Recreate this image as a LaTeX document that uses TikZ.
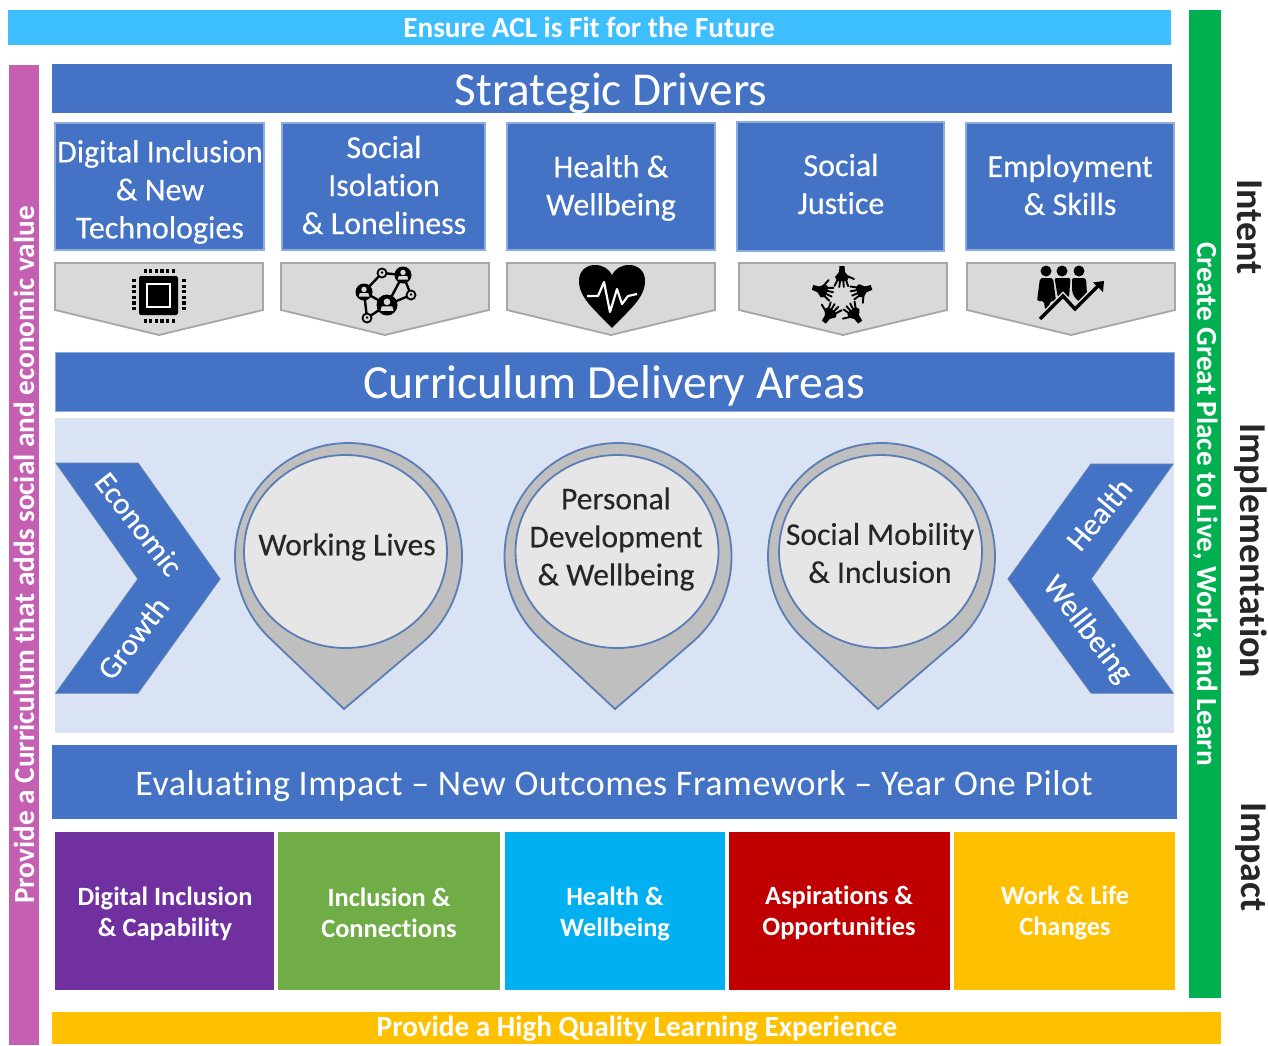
\documentclass[tikz,border=0pt]{standalone}
\usepackage{fontspec}
\setmainfont[Ligatures={NoCommon,TeX}]{Carlito}
\usetikzlibrary{calc}
\definecolor{acblue}{HTML}{4472C4}
\definecolor{acborder}{HTML}{8FAADC}
\definecolor{acpanel}{HTML}{DAE3F3}
\definecolor{accyan}{HTML}{3DBEFF}
\definecolor{acpink}{HTML}{C55FB2}
\definecolor{acgreen}{HTML}{00B050}
\definecolor{acyellow}{HTML}{FFC000}
\definecolor{acpurple}{HTML}{7030A0}
\definecolor{acleaf}{HTML}{70AD47}
\definecolor{acsky}{HTML}{00B0F0}
\definecolor{acred}{HTML}{C00000}
\definecolor{acgrey}{HTML}{D9D9D9}
\definecolor{acedge}{HTML}{A6A6A6}
\definecolor{acpinout}{HTML}{BFBFBF}
\definecolor{acpinin}{HTML}{E7E6E6}
\definecolor{acpinline}{HTML}{5A7DB5}
\newcommand{\pxs}[2]{\fontsize{#1}{#2}\selectfont}
\newcommand{\semi}{\addfontfeature{FakeBold=0.25}}
\tikzset{
  x=0.5pt,y=-0.5pt,
  drvbox/.style={fill=acblue,draw=acborder,line width=0.7pt},
  drvtext/.style={text=white,align=center,font=\pxs{16}{19}\semi},
  chev/.style={fill=acgrey,draw=acedge,line width=0.9pt},
  ltext/.style={text=white,font=\pxs{14.6}{18}\bfseries},
  sidetext/.style={text=white,font=\pxs{14.6}{18}\bfseries},
  outtext/.style={text=white,align=center,font=\pxs{13.2}{15.5}\bfseries},
  righttext/.style={text=black!85,font=\pxs{19}{22}\bfseries,rotate=-90},
  pinout/.style={fill=acpinout,draw=acpinline,line width=0.9pt},
  pinin/.style={fill=acpinin,draw=acpinline,line width=0.9pt},
  pintext/.style={text=black!85,align=center,font=\pxs{15.8}{19}\semi},
  arrowshape/.style={fill=acblue,draw=acpinline,line width=0.5pt},
  arrowtext/.style={text=white,font=\pxs{15.5}{18}\semi},
}
\newcommand{\chevdown}[2]{\draw[chev] (#1,263) -- (#2,263) -- (#2,310) -- ({(#1+#2)/2},335) -- (#1,310) -- cycle;}
\newcommand{\pin}[5]{%
 \draw[pinout] (#3,709) -- ($(#1,#2)+(132:113.5)$) arc[start angle=132,end angle=408,radius=113.5] -- cycle;
 \draw[pinin] (#4,#5) ellipse[x radius=101.5,y radius=96.5];
}
\newcommand{\hand}[1]{%
 \begin{scope}[shift={(842,297)},rotate=#1]
  \fill (-2.5,-31) -- (2.5,-31) -- (3,-25) -- (7,-20) -- (5,-16) -- (-5,-16) -- (-7,-20) -- (-3,-25) -- cycle;
  \draw[line width=0.95pt,line cap=round] (-4.5,-17) -- (-7.5,-11) (-1.8,-17) -- (-2.8,-10) (1.2,-17) -- (1.8,-10) (4,-17) -- (6,-11) (5,-21) -- (12,-18);
 \end{scope}}
\newcommand{\netbig}[3]{%
 \fill[black] (#1,#2) circle[radius=#3];
 \fill[acgrey] (#1,{#2-#3*0.3}) circle[radius=#3*0.32];
 \fill[acgrey] (#1-#3*0.62,#2+#3*0.55) -- (#1-#3*0.5,#2+#3*0.12) -- (#1+#3*0.5,#2+#3*0.12) -- (#1+#3*0.62,#2+#3*0.55) -- cycle;}
\newcommand{\netsmall}[3]{%
 \fill[black] (#1,#2) circle[radius=#3];
 \fill[acgrey] (#1,#2) circle[radius=#3*0.62];
 \fill[black] (#1,{#2-#3*0.1}) circle[radius=#3*0.25];}
\begin{document}
\begin{tikzpicture}
\useasboundingbox (0,0) rectangle (1268,1045);
% outer bands
\fill[accyan] (8,10) rectangle (1171,45);
\node[ltext] (tophead) at (589,27) {Ensure ACL is Fit for the Future};
\fill[acpink] (9,65) rectangle (39,1045);
\node[sidetext,rotate=90] (lefttxt) at (24,555) {Provide a Curriculum that adds social and economic value};
\fill[acgreen] (1189,10) rectangle (1221,998);
\node[sidetext,rotate=-90] (righttxt) at (1206,504) {Create Great Place to Live, Work, and Learn};
\node[righttext] (intent) at (1250,227) {Intent};
\node[righttext] (implem) at (1251,551) {Implementation};
\node[righttext] (impact) at (1251,857) {Impact};
\fill[acyellow] (52,1012) rectangle (1221,1044);
\node[ltext] (bottomhead) at (637,1029) {Provide a High Quality Learning Experience};
% strategic drivers
\fill[acblue] (52,64) rectangle (1172,113);
\node[text=white,font=\pxs{23.6}{26}] (drivers) at (611,93) {Strategic Drivers};
\draw[drvbox] (55,123) rectangle (264,250);
\draw[drvbox] (282,123) rectangle (485,250);
\draw[drvbox] (507,123) rectangle (715,250);
\draw[drvbox] (737,122) rectangle (944,251);
\draw[drvbox] (966,123) rectangle (1174,250);
\node[drvtext] (d1) at (160,192) {Digital Inclusion\\\& New\\Technologies};
\node[drvtext] (d2) at (384,185) {Social\\Isolation\\\& Loneliness};
\node[drvtext] (d3) at (611,188) {Health \&\\Wellbeing};
\node[drvtext] (d4) at (841,184) {Social\\Justice};
\node[drvtext] (d5) at (1070,185) {Employment\\\& Skills};
\chevdown{55}{263}\chevdown{281}{489}\chevdown{507}{715}\chevdown{739}{947}\chevdown{967}{1175}
% chip
\fill[rounded corners=1pt] (139,276) rectangle (178,315);
\draw[white,line width=0.9pt] (147,284) rectangle (170,307);
\foreach \i in {0,...,5}{
 \fill (143.5+\i*5.6,268.5) rectangle ++(3.2,4);
 \fill (143.5+\i*5.6,319) rectangle ++(3.2,4);
 \fill (131.5,279+\i*5.6) rectangle ++(4,3.2);
 \fill (181.5,279+\i*5.6) rectangle ++(4,3.2);
}
% network
\draw[line width=1.2pt] (364,292) -- (382,273) -- (403,275) -- (387,305) -- (364,292) (403,275) -- (411,295) -- (387,305) -- (367,318) -- (364,292);
\netbig{364}{292}{8.5}\netbig{403}{275}{8.5}\netbig{387}{305}{10.5}\netsmall{382}{273}{5.5}\netsmall{411}{295}{5.5}\netsmall{367}{318}{5.5}
% heart
\fill (612,328) .. controls (595,310) and (579,298) .. (579,281) .. controls (579,270) and (587,265) .. (595,265) .. controls (603,265) and (609,269) .. (612,275) .. controls (615,269) and (621,265) .. (629,265) .. controls (637,265) and (645,270) .. (645,281) .. controls (645,298) and (629,310) .. (612,328) -- cycle;
\draw[white,line width=1.1pt,line join=round] (587,296) -- (598,296) -- (604,282) -- (610,312) -- (617,289) -- (622,304) -- (628,296) -- (637,294);
% hands
\foreach \a in {0,72,144,216,288}{\hand{\a}}
% people and arrow
\fill (1046,271) circle[radius=5.5];
\fill (1062,271) circle[radius=5.5];
\fill (1079,271) circle[radius=5.5];
\fill[rounded corners=1pt] (1040,278) -- (1053,278) -- (1056,301) -- (1050,301) -- (1049,310) -- (1045,310) -- (1044,301) -- (1037,301) -- cycle;
\fill[rounded corners=1pt] (1054.5,278) -- (1070.5,278) -- (1069,298) -- (1058,298) -- cycle;
\fill[rounded corners=1pt] (1072,278) -- (1086,278) -- (1087,295) -- (1083,295) -- (1082,304) -- (1075,298) -- (1072,292) -- cycle;
\draw[acgrey,line width=3.2pt] (1040,319) -- (1063,296) -- (1075,309) -- (1098,286);
\draw[line width=1.7pt] (1040,319) -- (1063,296) -- (1075,309) -- (1098,286);
\fill (1104,281) -- (1103,292) -- (1093,282.5) -- cycle;
% curriculum
\fill[acblue] (55,352) rectangle (1174,411);
\draw[acborder,line width=0.4pt] (55,352) rectangle (1174,411);
\node[text=white,font=\pxs{23.8}{26}] (curr) at (614,386) {Curriculum Delivery Areas};
\fill[acpanel] (55,418) rectangle (1174,733);
\draw[arrowshape] (56,463) -- (138,463) -- (220,579) -- (138,693) -- (56,693) -- (138,579) -- cycle;
\node[arrowtext,rotate=-52] (econ) at (139,524) {Economic};
\node[arrowtext,rotate=52] (grow) at (133,638) {Growth};
\draw[arrowshape] (1173,464) -- (1091,464) -- (1008,579) -- (1091,693) -- (1173,693) -- (1091,579) -- cycle;
\node[arrowtext,rotate=50] (hlth) at (1099,514) {Health};
\node[arrowtext,rotate=-52] (well) at (1087,630) {Wellbeing};
\pin{348.5}{556.5}{344}{345.5}{551.5}
\pin{618}{556.5}{615}{617}{551.5}
\pin{881.5}{556.5}{878}{880.5}{551.5}
\node[pintext] (p1) at (347,547) {Working Lives};
\node[pintext] (p2) at (616,539) {Personal\\Development\\\& Wellbeing};
\node[pintext] (p3) at (880,553) {Social Mobility\\\& Inclusion};
% impact
\fill[acblue] (52,745) rectangle (1177,819);
\node[text=white,font=\pxs{18}{20}\addfontfeature{LetterSpace=1.5}] (eval) at (614,786) {Evaluating Impact – New Outcomes Framework – Year One Pilot};
\fill[acpurple] (55,832) rectangle (274,990);
\fill[acleaf] (278,832) rectangle (500,990);
\fill[acsky] (505,832) rectangle (725,990);
\fill[acred] (729,832) rectangle (950,990);
\fill[acyellow] (954,832) rectangle (1175,990);
\node[outtext] (o1) at (165,914) {Digital Inclusion\\\& Capability};
\node[outtext] (o2) at (389,913) {Inclusion \&\\Connections};
\node[outtext] (o3) at (615,914) {Health \&\\Wellbeing};
\node[outtext] (o4) at (839,913) {Aspirations \&\\Opportunities};
\node[outtext] (o5) at (1065,913) {Work \& Life\\Changes};
\end{tikzpicture}
\end{document}
